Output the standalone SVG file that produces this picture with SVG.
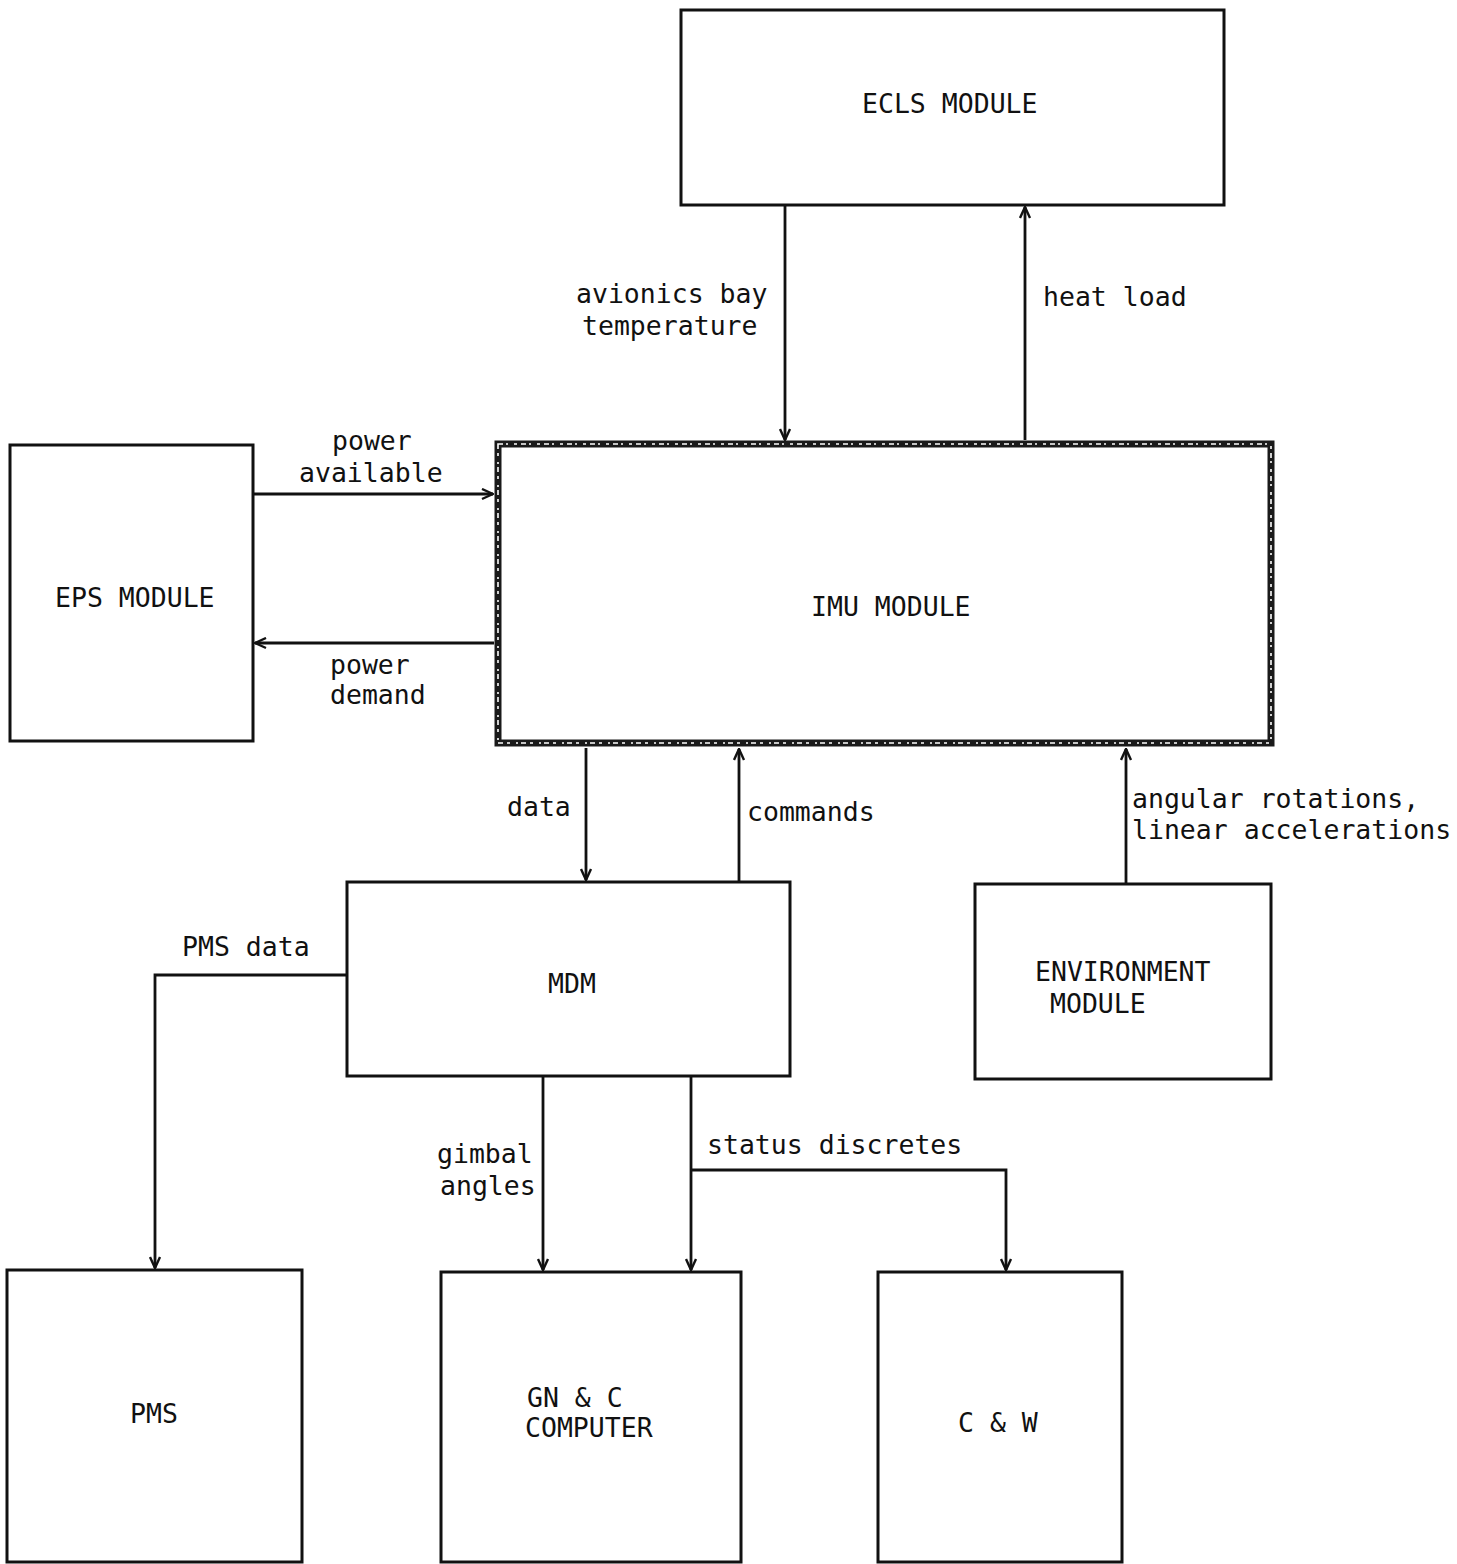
<svg xmlns="http://www.w3.org/2000/svg" width="1457" height="1564" viewBox="0 0 1457 1564">
<style>
.box{fill:none;stroke:#111;stroke-width:3}
.imu{fill:none;stroke:#1a1a1a;stroke-width:7}
.imutex{fill:none;stroke:#fff;stroke-width:1.6;stroke-dasharray:5 3 2 6 3 4}
.con{fill:none;stroke:#111;stroke-width:2.8}
text{font-family:"DejaVu Sans Mono","Liberation Mono",monospace;font-size:26.5px;fill:#111}
</style>
<defs>
<marker id="arr" viewBox="0 0 13 13" refX="12" refY="6.5" markerWidth="13" markerHeight="13" markerUnits="userSpaceOnUse" orient="auto">
<path d="M1,1.5 L12,6.5 L1,11.5" fill="none" stroke="#111" stroke-width="2.4"/>
</marker>
</defs>
<rect width="1457" height="1564" fill="#fff"/>

<g id="connectors">
<line class="con" x1="785" y1="206" x2="785" y2="440" marker-end="url(#arr)"/>
<line class="con" x1="1025" y1="440" x2="1025" y2="207" marker-end="url(#arr)"/>
<line class="con" x1="254" y1="494" x2="493" y2="494" marker-end="url(#arr)"/>
<line class="con" x1="494" y1="643" x2="255" y2="643" marker-end="url(#arr)"/>
<line class="con" x1="586" y1="748" x2="586" y2="880" marker-end="url(#arr)"/>
<line class="con" x1="739" y1="881" x2="739" y2="749" marker-end="url(#arr)"/>
<line class="con" x1="1126" y1="884" x2="1126" y2="749" marker-end="url(#arr)"/>
<path class="con" d="M347,975 H155 V1268" marker-end="url(#arr)"/>
<line class="con" x1="543" y1="1077" x2="543" y2="1270" marker-end="url(#arr)"/>
<line class="con" x1="691" y1="1077" x2="691" y2="1270" marker-end="url(#arr)"/>
<path class="con" d="M691,1170 H1006 V1270" marker-end="url(#arr)"/>
<text x="576" y="303">avionics bay</text>
<text x="582" y="335">temperature</text>
<text x="1043" y="306">heat load</text>
<text x="332" y="450">power</text>
<text x="299" y="482">available</text>
<text x="330" y="674">power</text>
<text x="330" y="704">demand</text>
<text x="507" y="816">data</text>
<text x="747" y="821">commands</text>
<text x="1132" y="808">angular rotations,</text>
<text x="1132" y="839">linear accelerations</text>
<text x="182" y="956">PMS data</text>
<text x="437" y="1163">gimbal</text>
<text x="440" y="1195">angles</text>
<text x="707" y="1154">status discretes</text>
</g>

<g id="ecls">
<rect class="box" x="681" y="10" width="543" height="195"/>
<text x="862" y="113">ECLS MODULE</text>
</g>
<g id="eps">
<rect class="box" x="10" y="445" width="243" height="296"/>
<text x="55" y="607">EPS MODULE</text>
</g>
<g id="imu">
<rect class="imu" x="498" y="444" width="773" height="299"/>
<rect class="imutex" x="498" y="444" width="773" height="299"/>
<text x="811" y="616">IMU MODULE</text>
</g>
<g id="mdm">
<rect class="box" x="347" y="882" width="443" height="194"/>
<text x="548" y="993">MDM</text>
</g>
<g id="environment">
<rect class="box" x="975" y="884" width="296" height="195"/>
<text x="1035" y="981">ENVIRONMENT</text>
<text x="1050" y="1013">MODULE</text>
</g>
<g id="pms">
<rect class="box" x="7" y="1270" width="295" height="292"/>
<text x="130" y="1423">PMS</text>
</g>
<g id="gnc">
<rect class="box" x="441" y="1272" width="300" height="290"/>
<text x="527" y="1407">GN &amp; C</text>
<text x="525" y="1437">COMPUTER</text>
</g>
<g id="cw">
<rect class="box" x="878" y="1272" width="244" height="290"/>
<text x="958" y="1432">C &amp; W</text>
</g>
</svg>
